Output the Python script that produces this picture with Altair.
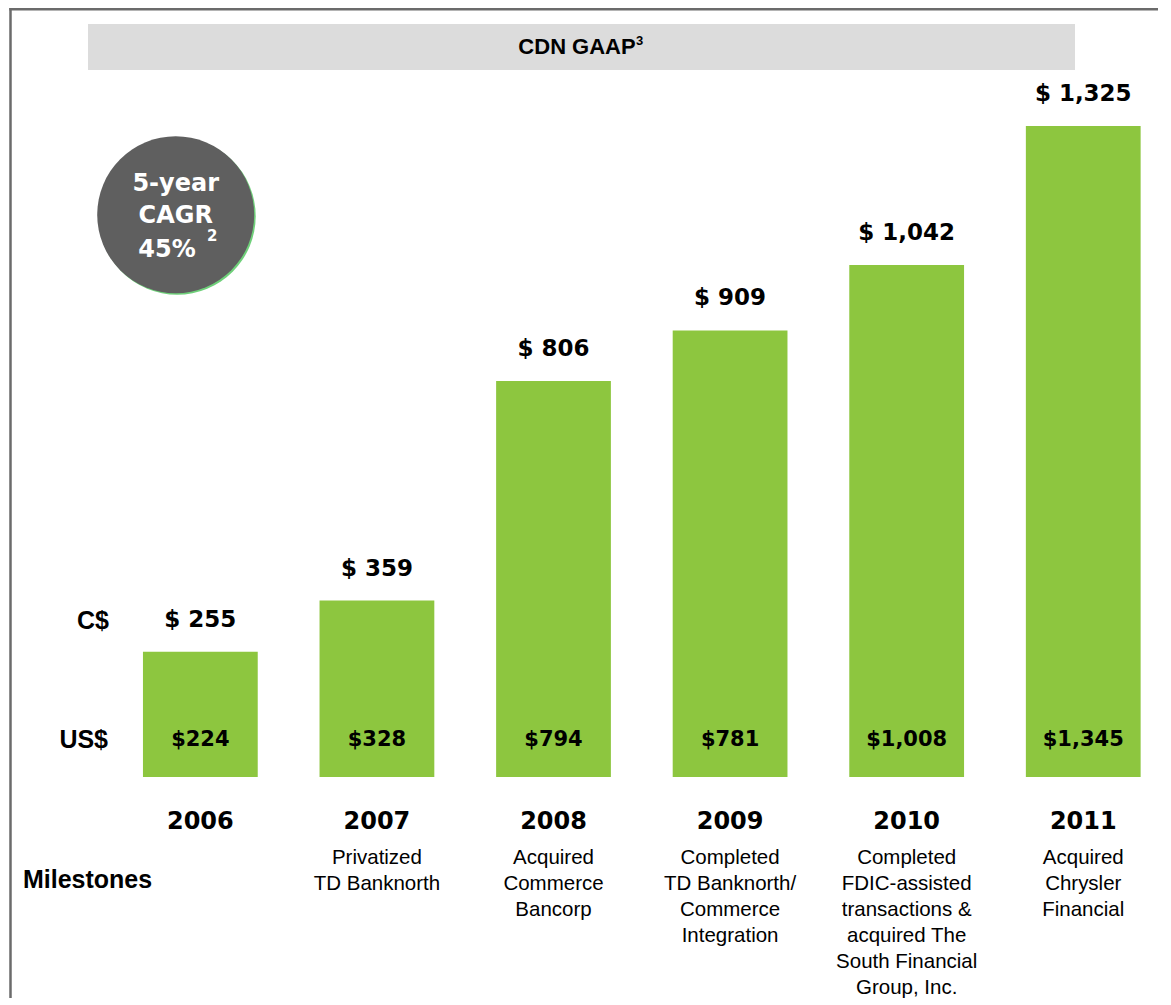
import altair as alt
import pandas as pd

# ---------------- data ----------------
years = ["2006", "2007", "2008", "2009", "2010", "2011"]
cdn_values = [255, 359, 806, 909, 1042, 1325]
us_values = [224, 328, 794, 781, 1008, 1345]
cdn_labels = ["$ 255", "$ 359", "$ 806", "$ 909", "$ 1,042", "$ 1,325"]
us_labels = ["$224", "$328", "$794", "$781", "$1,008", "$1,345"]
milestones = [
    "",
    "Privatized\nTD Banknorth",
    "Acquired\nCommerce\nBancorp",
    "Completed\nTD Banknorth/\nCommerce\nIntegration",
    "Completed\nFDIC-assisted\ntransactions &\nacquired The\nSouth Financial\nGroup, Inc.",
    "Acquired\nChrysler\nFinancial",
]
title_text = "CDN GAAP"
title_sup = "3"
cagr_lines = ["5-year", "CAGR"]
cagr_value = "45%"
cagr_sup = "2"
row_labels = ["C$", "US$", "Milestones"]

df = pd.DataFrame({
    "year": years,
    "cdn": cdn_values,
    "us": us_values,
    "cdn_label": cdn_labels,
    "us_label": us_labels,
    "milestone": milestones,
})

# ---------------- layout (page pixels) ----------------
X0, Y0 = 125.3, 126.0      # page position of plot origin
W, H = 1033, 651


def px(x):
    return x - X0


def py(y):
    return y - Y0


GREEN = "#8dc63f"
BOLD_WIDE = "DejaVu Sans"
ARIAL = "Liberation Sans"

xs = alt.Scale(domain=years, paddingInner=0.35, paddingOuter=0.1)
ys = alt.Scale(domain=[0, 1325], nice=False, zero=True)
X = alt.X("year:N", scale=xs, axis=None)

base = alt.Chart(df)

bars = base.mark_bar(color=GREEN).encode(
    x=X, y=alt.Y("cdn:Q", scale=ys, axis=None)
)

top_labels = base.mark_text(
    font=BOLD_WIDE, fontWeight="bold", fontSize=23, baseline="middle",
    dy=-32, color="black"
).encode(x=X, y=alt.Y("cdn:Q", scale=ys, axis=None), text="cdn_label:N")

us_text = base.mark_text(
    font=BOLD_WIDE, fontWeight="bold", fontSize=21, baseline="middle",
    color="black"
).encode(x=X, y=alt.value(py(740)), text="us_label:N")

year_text = base.mark_text(
    font=BOLD_WIDE, fontWeight="bold", fontSize=24, baseline="middle",
    color="black"
).encode(x=X, y=alt.value(py(822)), text="year:N")

mile_text = base.mark_text(
    font=ARIAL, fontSize=20.5, baseline="top", lineBreak="\n",
    lineHeight=26, color="black"
).encode(x=X, y=alt.value(py(848)), text="milestone:N")

one = alt.Data(values=[{"k": 0}])

# frame
frame_left = alt.Chart(one).mark_rule(color="#6b6b6b", strokeWidth=2.5).encode(
    x=alt.value(px(10.5)), y=alt.value(py(8)), y2=alt.value(py(1010))
)
frame_top = alt.Chart(one).mark_rule(color="#6b6b6b", strokeWidth=2.5).encode(
    x=alt.value(px(9.3)), x2=alt.value(px(1175)), y=alt.value(py(9.2))
)

# header bar
header = alt.Chart(one).mark_rect(color="#dcdcdc").encode(
    x=alt.value(px(88)), x2=alt.value(px(1075)),
    y=alt.value(py(24)), y2=alt.value(py(70))
)
header_txt = alt.Chart(alt.Data(values=[{"t": title_text}])).mark_text(
    font=ARIAL, fontWeight="bold", fontSize=22, baseline="middle",
    align="center", color="black"
).encode(x=alt.value(px(577)), y=alt.value(py(47)), text="t:N")
header_sup = alt.Chart(alt.Data(values=[{"t": title_sup}])).mark_text(
    font=ARIAL, fontWeight="bold", fontSize=13, baseline="middle",
    align="left", color="black"
).encode(x=alt.value(px(636)), y=alt.value(py(41)), text="t:N")

# CAGR badge
badge_shadow = alt.Chart(one).mark_point(
    shape="circle", filled=True, size=157 * 157, color="#6fd07a", opacity=1
).encode(x=alt.value(px(177.2)), y=alt.value(py(216.2)))
badge = alt.Chart(one).mark_point(
    shape="circle", filled=True, size=157 * 157, color="#5f5f5f", opacity=1
).encode(x=alt.value(px(175.7)), y=alt.value(py(214.7)))
badge_l1 = alt.Chart(alt.Data(values=[{"t": cagr_lines[0]}])).mark_text(
    font=BOLD_WIDE, fontWeight="bold", fontSize=24, baseline="middle",
    color="white"
).encode(x=alt.value(px(175.7)), y=alt.value(py(184)), text="t:N")
badge_l2 = alt.Chart(alt.Data(values=[{"t": cagr_lines[1]}])).mark_text(
    font=BOLD_WIDE, fontWeight="bold", fontSize=24, baseline="middle",
    color="white"
).encode(x=alt.value(px(175.7)), y=alt.value(py(216)), text="t:N")
badge_l3 = alt.Chart(alt.Data(values=[{"t": cagr_value}])).mark_text(
    font=BOLD_WIDE, fontWeight="bold", fontSize=24, baseline="middle",
    color="white"
).encode(x=alt.value(px(167)), y=alt.value(py(250)), text="t:N")
badge_sup = alt.Chart(alt.Data(values=[{"t": cagr_sup}])).mark_text(
    font=BOLD_WIDE, fontWeight="bold", fontSize=15, baseline="middle",
    align="left", color="white"
).encode(x=alt.value(px(207)), y=alt.value(py(236)), text="t:N")

# row labels
lab_c = alt.Chart(alt.Data(values=[{"t": row_labels[0]}])).mark_text(
    font=ARIAL, fontWeight="bold", fontSize=25, baseline="middle",
    align="right", color="black"
).encode(x=alt.value(px(109)), y=alt.value(py(621)), text="t:N")
lab_us = alt.Chart(alt.Data(values=[{"t": row_labels[1]}])).mark_text(
    font=ARIAL, fontWeight="bold", fontSize=25, baseline="middle",
    align="right", color="black"
).encode(x=alt.value(px(108)), y=alt.value(py(740)), text="t:N")
lab_m = alt.Chart(alt.Data(values=[{"t": row_labels[2]}])).mark_text(
    font=ARIAL, fontWeight="bold", fontSize=25, baseline="middle",
    align="left", color="black"
).encode(x=alt.value(px(23)), y=alt.value(py(880)), text="t:N")

chart = alt.layer(
    frame_left, frame_top, header, header_txt, header_sup,
    badge_shadow, badge, badge_l1, badge_l2, badge_l3, badge_sup,
    bars, top_labels, us_text, year_text, mile_text,
    lab_c, lab_us, lab_m,
).properties(
    width=W, height=H,
    padding={"left": X0 - 8, "top": Y0 - 8, "right": 0, "bottom": 221},
    autosize=alt.AutoSizeParams(type="none"),
    background="white",
).configure_view(stroke=None)

chart.save("out.html", embed_options={"renderer": "svg", "actions": False})
